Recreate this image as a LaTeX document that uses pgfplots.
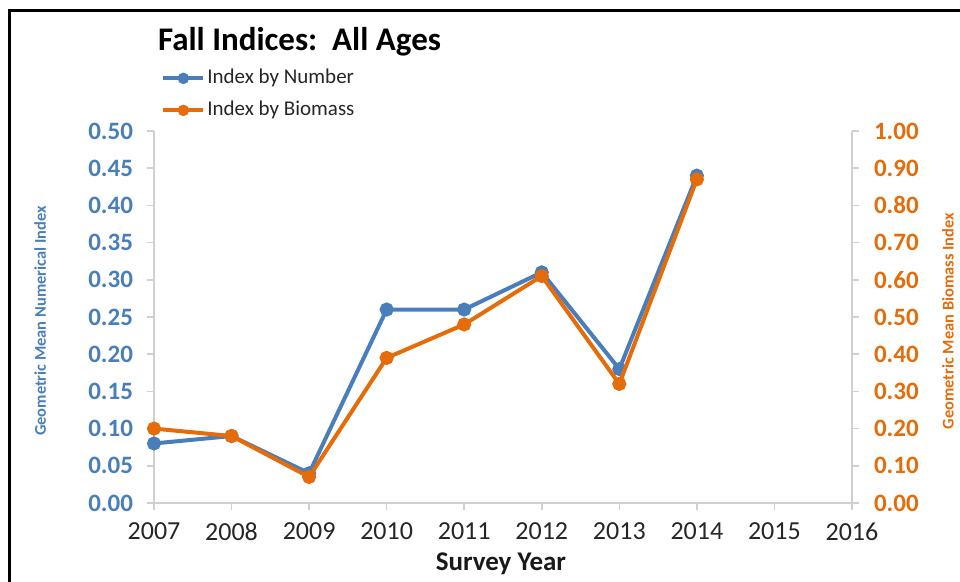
\documentclass[border=0pt]{standalone}
\usepackage{fontspec}
\setmainfont{Carlito}
\usepackage{pgfplots}
\pgfplotsset{compat=1.18}

\definecolor{numblue}{HTML}{4A7EBB}
\definecolor{bioorange}{HTML}{E46C0A}
\definecolor{axgray}{HTML}{D0D0D0}

\pgfplotsset{
  fallaxis/.style={
    scale only axis,
    width=349pt, height=186pt,
    xmin=2007, xmax=2016,
    clip=false,
    tick align=outside,
    major tick length=3.5pt,
    axis line style={-, draw=axgray, line width=0.8pt},
    every tick/.style={draw=axgray, line width=0.8pt},
    /pgf/number format/assume math mode=true,
  },
  legimg/.style={legend image code/.code={
      \draw[#1, mark=none] (0pt,0pt) -- (20pt,0pt);
      \draw[#1, mark size=1.8pt] plot coordinates {(10pt,0pt)};}},
}

\begin{document}
\begin{tikzpicture}
\useasboundingbox (-77pt,-39.5pt) rectangle (403pt,251.5pt);

% left axis: index by number
\begin{axis}[
  fallaxis,
  axis x line*=bottom,
  axis y line*=left,
  ymin=0, ymax=0.5,
  ytick={0,0.05,...,0.5},
  xtick={2007,2008,...,2016},
  xticklabel style={font=\fontsize{13}{15}\selectfont, text=black!85, yshift=-3pt,
    /pgf/number format/1000 sep={}},
  yticklabel style={font=\fontsize{12.5}{14}\selectfont\bfseries, text=numblue, xshift=-3.5pt,
    /pgf/number format/.cd, fixed, fixed zerofill, precision=2},
  ylabel={Geometric Mean Numerical Index},
  y label style={at={(axis description cs:-0.163,0.489)}, anchor=center,
    font=\fontsize{8.2}{10}\selectfont\bfseries, text=numblue},
  xlabel={Survey Year},
  x label style={at={(axis description cs:0.497,-0.164)}, anchor=center,
    font=\fontsize{13.5}{15}\selectfont\bfseries, text=black!90},
]
\addplot[numblue, line width=2pt, mark=*, mark size=2.5pt]
  coordinates {(2007,0.08)(2008,0.09)(2009,0.04)(2010,0.26)(2011,0.26)(2012,0.31)(2013,0.18)(2014,0.44)};
\end{axis}

% right axis: index by biomass
\begin{axis}[
  fallaxis,
  axis x line=none,
  axis y line*=right,
  ymin=0, ymax=1,
  ytick={0,0.1,...,1},
  yticklabel style={font=\fontsize{12.5}{14}\selectfont\bfseries, text=bioorange, xshift=4pt,
    /pgf/number format/.cd, fixed, fixed zerofill, precision=2},
  ylabel={Geometric Mean Biomass Index},
  y label style={at={(axis description cs:1.1375,0.489)}, anchor=center,
    font=\fontsize{8.2}{10}\selectfont\bfseries, text=bioorange},
  legend style={at={(axis description cs:0.010,1.1667)}, anchor=north west,
    draw=none, fill=none, inner sep=0pt, row sep=7pt,
    font=\fontsize{10.5}{12}\selectfont, text=black!85,
    nodes={inner xsep=1pt, inner ysep=0pt, text height=7pt, text depth=2pt}},
  legend cell align=left,
]
\addlegendimage{legimg, numblue, line width=2pt, mark=*}
\addlegendentry{Index by Number}
\addplot[bioorange, line width=2pt, mark=*, mark size=2.5pt, legimg]
  coordinates {(2007,0.20)(2008,0.18)(2009,0.07)(2010,0.39)(2011,0.48)(2012,0.61)(2013,0.32)(2014,0.87)};
\addlegendentry{Index by Biomass}
\end{axis}

\node[anchor=base west, font=\fontsize{16.5}{19}\selectfont\bfseries] at (-1.5pt,226pt) {Fall Indices:\ \ All Ages};

% frame, cut by the picture's edges as in the reference
\draw[line width=1.5pt] (-72pt,-60pt) -- (-72pt,246pt) -- (430pt,246pt);
\end{tikzpicture}
\end{document}
